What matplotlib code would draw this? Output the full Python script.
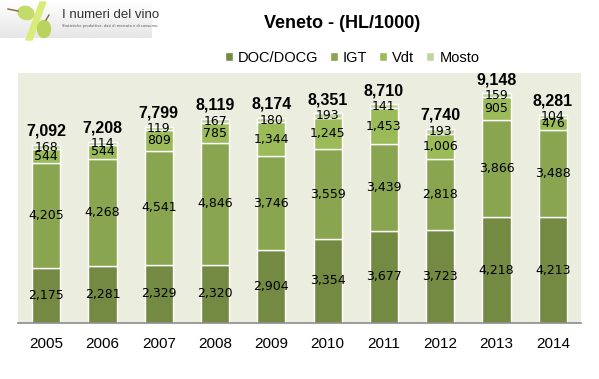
import matplotlib
matplotlib.use("Agg")
import matplotlib.pyplot as plt
import numpy as np
from matplotlib.patches import Ellipse, Polygon

years = ["2005", "2006", "2007", "2008", "2009", "2010", "2011", "2012", "2013", "2014"]
doc = [2175, 2281, 2329, 2320, 2904, 3354, 3677, 3723, 4218, 4213]
igt = [4205, 4268, 4541, 4846, 3746, 3559, 3439, 2818, 3866, 3488]
vdt = [544, 544, 809, 785, 1344, 1245, 1453, 1006, 905, 476]
mosto = [168, 114, 119, 167, 180, 193, 141, 193, 159, 104]
totals = [7092, 7208, 7799, 8119, 8174, 8351, 8710, 7740, 9148, 8281]
series_names = ["DOC/DOCG", "IGT", "Vdt", "Mosto"]
colors = ["#748A42", "#8AA550", "#9BBB59", "#C0D5A0"]

W, H = 599, 379
fig = plt.figure(figsize=(W / 100, H / 100), dpi=100)
fig.patch.set_facecolor("white")

ax = fig.add_axes([18 / W, 1 - 323 / H, (581 - 18) / W, (323 - 73) / H])
ax.set_facecolor("#EBEEDF")
x = np.arange(len(years))
bottom = np.zeros(len(years))
for vals, col, name in zip([doc, igt, vdt, mosto], colors, series_names):
    v = np.array(vals, dtype=float)
    ax.bar(x, v, 0.5, bottom=bottom, color=col, edgecolor="white", linewidth=1.0, label=name, zorder=2)
    for xi, b, vi in zip(x, bottom, v):
        ax.text(xi, b + vi / 2, f"{int(vi):,}", ha="center", va="center",
                fontsize=9, family="DejaVu Sans", color="black", zorder=3)
    bottom += v

for xi, t, b in zip(x, totals, bottom):
    ax.text(xi, b + 250, f"{t:,}", ha="center", va="bottom", fontsize=11.5,
            fontweight="bold", family="Liberation Sans", color="black", zorder=3)

ax.set_xlim(-0.5, 9.5)
ax.set_ylim(0, 9960)
ax.set_yticks([])
ax.set_xticks(x)
ax.set_xticklabels(years, fontsize=11, family="Liberation Sans")
ax.tick_params(axis="x", length=0, pad=10)
for s in ["top", "left", "right"]:
    ax.spines[s].set_visible(False)
ax.spines["bottom"].set_color("#8C8C8C")
ax.spines["bottom"].set_linewidth(1.2)

fig.text(342 / W, 1 - 23 / H, "Veneto - (HL/1000)", ha="center", va="center",
         fontsize=13, fontweight="bold", family="Liberation Sans")

leg = fig.legend(*ax.get_legend_handles_labels(), loc="center", bbox_to_anchor=(352 / W, 1 - 58 / H),
                 ncol=4, frameon=False, prop={"family": "Liberation Sans", "size": 10.5},
                 handlelength=0.55, handleheight=0.55, handletextpad=0.35, columnspacing=0.8,
                 borderpad=0.1)

# Logo
lax = fig.add_axes([0, 1 - 45 / H, 155 / W, 45 / H])
lax.set_xlim(0, 155)
lax.set_ylim(45, 0)
lax.axis("off")
grad = np.linspace(1.0, 0.9, 50).reshape(-1, 1)
lax.imshow(grad, cmap="gray", vmin=0, vmax=1, extent=[0, 152, 38, 0], aspect="auto", zorder=0)
lax.add_patch(Polygon([[40, 2], [46, 2], [32, 40], [26, 40]], closed=True, color="#D9EC7A", zorder=1))
lax.add_patch(Ellipse((26, 13), 16, 13, angle=20, color="#C2DB6A", zorder=2))
lax.add_patch(Ellipse((44, 29), 13, 17, color="#B9D45C", zorder=2))
lax.plot([8, 18], [9, 11], color="#7A6A3A", lw=1, zorder=3)
lax.plot([46, 49], [20, 15], color="#7A6A3A", lw=1, zorder=3)
lax.text(62, 15, "I numeri del vino", fontsize=9.5, family="Liberation Sans", color="#333333",
         va="center", ha="left", zorder=3)
lax.text(62, 26, "Statistiche produttive, dati di mercato e di consumo.", fontsize=2.6,
         family="DejaVu Sans", color="#555555", va="center", ha="left", zorder=3)

fig.savefig("out.png", dpi=100, facecolor="white")
